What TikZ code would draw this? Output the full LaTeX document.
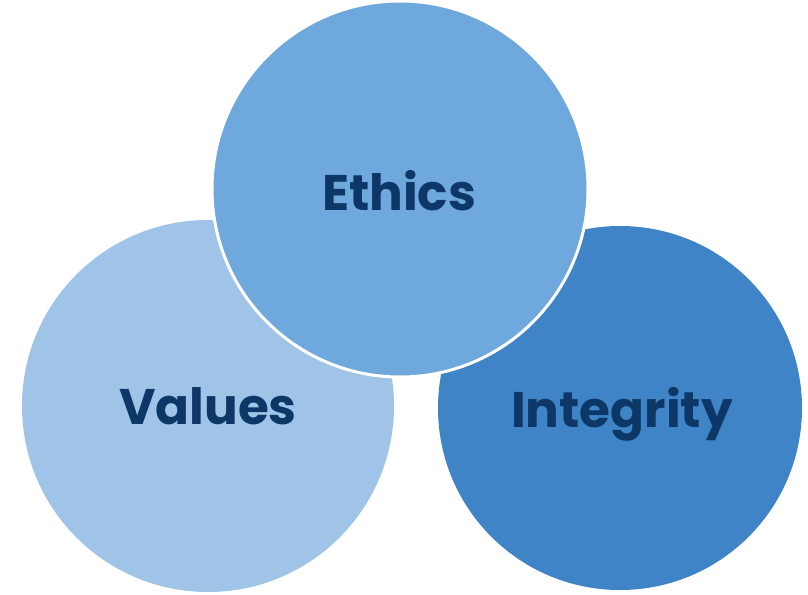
\documentclass[tikz,border=0pt]{standalone}
\usepackage{fontspec}
\setmainfont{Poppins}
\definecolor{valc}{HTML}{9FC4E8}
\definecolor{ethc}{HTML}{6FA8DC}
\definecolor{intc}{HTML}{3F84C6}
\definecolor{txtc}{HTML}{0C3766}
\tikzset{
  blob/.style={circle, inner sep=0pt, draw=none},
  lbl/.style={font=\fontsize{50}{50}\selectfont\bfseries, text=txtc, anchor=base, inner sep=0pt}
}
\begin{document}
\begin{tikzpicture}[x=1pt,y=-1pt]
\useasboundingbox[fill=white] (0,0) rectangle (808,594);
\node[blob, fill=valc, minimum size=372pt] (values) at (208,406) {};
\node[blob, fill=intc, minimum size=364pt] (integrity) at (620,408) {};
\node[blob, fill=ethc, draw=white, line width=3pt, minimum size=376pt] (ethics) at (400,189) {};
\node[lbl] (tethics) at (399,210) {Ethics};
\node[lbl] (tvalues) at (208,424) {Values};
\node[lbl] (tintegrity) at (622,427) {Integrity};
\end{tikzpicture}
\end{document}
